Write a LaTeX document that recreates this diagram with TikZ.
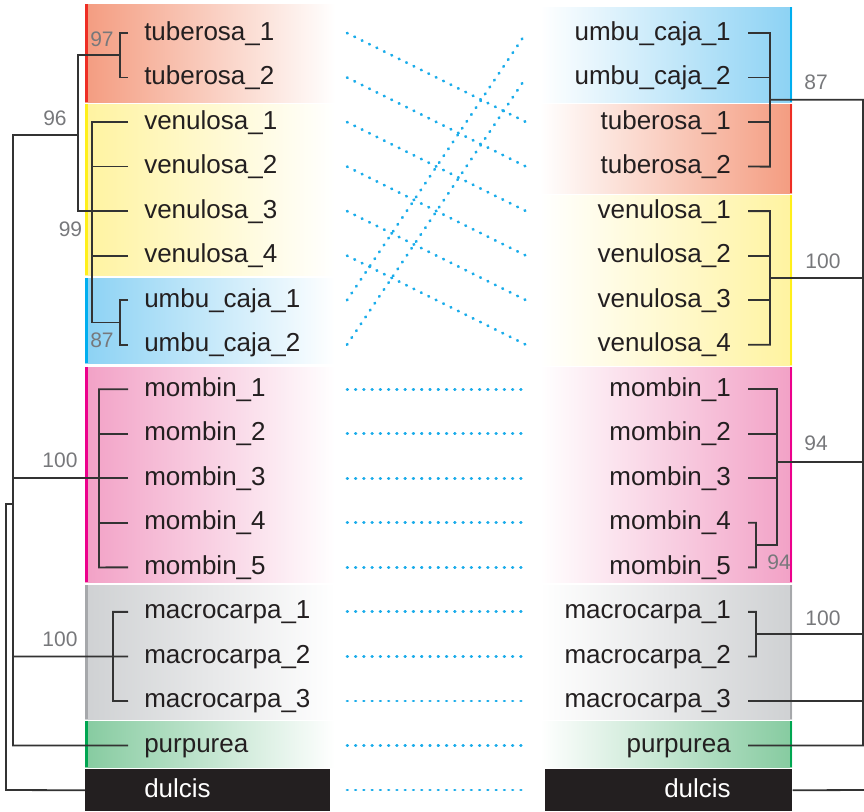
\documentclass[tikz,border=0pt]{standalone}
\usepackage{fontspec}
\setmainfont{Liberation Sans}
\usetikzlibrary{calc}
\definecolor{txt}{HTML}{231F20}
\definecolor{treec}{HTML}{333333}
\definecolor{bsc}{HTML}{77787B}
\definecolor{connc}{HTML}{1AACEA}
\definecolor{tubL}{HTML}{F49C80}
\definecolor{tubS}{HTML}{EE2E24}
\definecolor{venL}{HTML}{FFF3A0}
\definecolor{venS}{HTML}{FFEF1A}
\definecolor{umbL}{HTML}{8CD2F4}
\definecolor{umbS}{HTML}{00AEEF}
\definecolor{momL}{HTML}{F2A1C6}
\definecolor{momS}{HTML}{EC008C}
\definecolor{macL}{HTML}{CFD1D3}
\definecolor{macS}{HTML}{A6A8AB}
\definecolor{purL}{HTML}{86CBA0}
\definecolor{purS}{HTML}{00A651}
\definecolor{dul}{HTML}{231F20}
\tikzset{
  tree/.style={draw=treec, line width=1.35pt, line join=miter},
  lab/.style={font=\fontsize{19.5pt}{22pt}\selectfont, text=txt, inner ysep=0pt, text height=14pt, text depth=3.5pt},
  llab/.style={lab, anchor=west, inner xsep=12pt},
  rlab/.style={lab, anchor=east, inner xsep=12.75pt},
  bs/.style={font=\fontsize{15.75pt}{18pt}\selectfont, text=bsc, inner sep=0pt, anchor=center},
  conn/.style={draw=connc, line width=2.1pt, line cap=round, dash pattern=on 0.5pt off 5.7pt},
  dbox/.style={fill=dul, inner sep=0pt, minimum height=31.5pt, anchor=north west}
}
\begin{document}
\begin{tikzpicture}[x=0.75pt,y=-0.75pt]
\useasboundingbox (0,0) rectangle (864,811);
% ---------- left boxes
\shade[left color=tubL, right color=white] (85,4) rectangle (335,102);
\fill[tubS] (85,4) rectangle (87.5,102);
\shade[left color=venL, right color=white] (85,104) rectangle (335,275);
\fill[venS] (85,104) rectangle (87.5,275);
\shade[left color=umbL, right color=white] (85,278) rectangle (335,363);
\fill[umbS] (85,278) rectangle (87.5,363);
\shade[left color=momL, right color=white] (85,367) rectangle (335,582);
\fill[momS] (85,367) rectangle (87.5,582);
\shade[left color=macL, right color=white] (85,585) rectangle (335,719);
\fill[macS] (85,585) rectangle (87.5,719);
\shade[left color=purL, right color=white] (85,721) rectangle (335,767);
\fill[purS] (85,721) rectangle (87.5,767);
\node[dbox, minimum width=183.75pt] (LD) at (85,769) {};
% ---------- right boxes
\shade[left color=white, right color=umbL] (540,7) rectangle (792,102);
\fill[umbS] (789.5,7) rectangle (792,102);
\shade[left color=white, right color=tubL] (540,104) rectangle (792,193);
\fill[tubS] (789.5,104) rectangle (792,193);
\shade[left color=white, right color=venL] (540,195) rectangle (792,365);
\fill[venS] (789.5,195) rectangle (792,365);
\shade[left color=white, right color=momL] (540,367) rectangle (792,582);
\fill[momS] (789.5,367) rectangle (792,582);
\shade[left color=white, right color=macL] (540,585) rectangle (792,719);
\fill[macS] (789.5,585) rectangle (792,719);
\shade[left color=white, right color=purL] (540,721) rectangle (792,767);
\fill[purS] (789.5,721) rectangle (792,767);
\node[dbox, minimum width=185.25pt] (RD) at (545,769) {};
% ---------- labels
\foreach \t [count=\i from 0] in {tuberosa\_1,tuberosa\_2,venulosa\_1,venulosa\_2,venulosa\_3,venulosa\_4,umbu\_caja\_1,umbu\_caja\_2,mombin\_1,mombin\_2,mombin\_3,mombin\_4,mombin\_5,macrocarpa\_1,macrocarpa\_2,macrocarpa\_3,purpurea}{
  \pgfmathsetmacro\yy{33+44.53*\i}
  \node[llab] (L\i) at (128,\yy) {\t};
}
\foreach \t [count=\i from 0] in {umbu\_caja\_1,umbu\_caja\_2,tuberosa\_1,tuberosa\_2,venulosa\_1,venulosa\_2,venulosa\_3,venulosa\_4,mombin\_1,mombin\_2,mombin\_3,mombin\_4,mombin\_5,macrocarpa\_1,macrocarpa\_2,macrocarpa\_3,purpurea}{
  \pgfmathsetmacro\yy{33+44.53*\i}
  \node[rlab] (R\i) at (748,\yy) {\t};
}
\node[llab, text=white] (L17) at (128,790) {dulcis};
\node[rlab, text=white] (R17) at (748,790) {dulcis};
% ---------- connector end points
\foreach \i in {0,...,17}{
  \pgfmathsetmacro\yy{33+44.53*\i}
  \coordinate (pl\i) at (347,\yy);
  \coordinate (pr\i) at (526,\yy);
}
\foreach \a/\b in {0/2,1/3,2/4,3/5,4/6,5/7,6/0,7/1,8/8,9/9,10/10,11/11,12/12,13/13,14/14,15/15,16/16,17/17}
  \draw[conn] (pl\a) -- (pr\b);
% ---------- left tree
\draw[tree] (L0.west) -| (120,55.25) |- (L1.west);
\draw[tree] (L6.west) -| (120,322.5) |- (L7.west);
\draw[tree] (L2.west) -| (92,322.5) -- (120,322.5);
\foreach \i in {3,4,5} \draw[tree] (L\i.west) -- ++(-36,0);
\draw[tree] (92,211.1) -- (78,211.1) -- (78,55.25) -- (120,55.25);
\draw[tree] (78,135) -- (13,135) -- (13,745.5) -- (L16.west);
\draw[tree] (L8.west) -| (99,567.4) -- (L12.west);
\foreach \i in {9,11} \draw[tree] (L\i.west) -- ++(-29,0);
\draw[tree] (L10.west) -- (13,478.3);
\draw[tree] (L13.west) -| (113,701) -- (L15.west);
\draw[tree] (L14.west) -- (13,656.4);
\draw[tree] (13,504) -- (6,504) -- (6,790) -- (LD.west);
% ---------- right tree
\draw[tree] (R0.east) -| (770,166.6) -- (R3.east);
\foreach \i in {1,2} \draw[tree] (R\i.east) -- ++(22,0);
\draw[tree] (R4.east) -| (770,344.7) -- (R7.east);
\foreach \i in {5,6} \draw[tree] (R\i.east) -- ++(22,0);
\draw[tree] (770,99.8) -| (863,745.5) -- (R16.east);
\draw[tree] (770,278) -- (863,278);
\draw[tree] (R8.east) -| (777,545) -- (756,545);
\foreach \i in {9,10} \draw[tree] (R\i.east) -- ++(29,0);
\draw[tree] (R11.east) -| (756,567.4) -- (R12.east);
\draw[tree] (777,462) -- (863,462);
\draw[tree] (R13.east) -| (756,656.4) -- (R14.east);
\draw[tree] (756,634) -- (863,634);
\draw[tree] (R15.east) -- (863,701);
\draw[tree] (RD.east) -- (864,790);
% ---------- bootstrap values
\node[bs] (b1) at (102,39) {97};
\node[bs] (b2) at (55,118) {96};
\node[bs] (b3) at (70.5,229.5) {99};
\node[bs] (b4) at (102,340.5) {87};
\node[bs] (b5) at (60,460.5) {100};
\node[bs] (b6) at (60,639.5) {100};
\node[bs] (b7) at (816,82) {87};
\node[bs] (b8) at (823,261) {100};
\node[bs] (b9) at (816,443.5) {94};
\node[bs] (b10) at (779,562.5) {94};
\node[bs] (b11) at (823,618.5) {100};
\end{tikzpicture}
\end{document}
